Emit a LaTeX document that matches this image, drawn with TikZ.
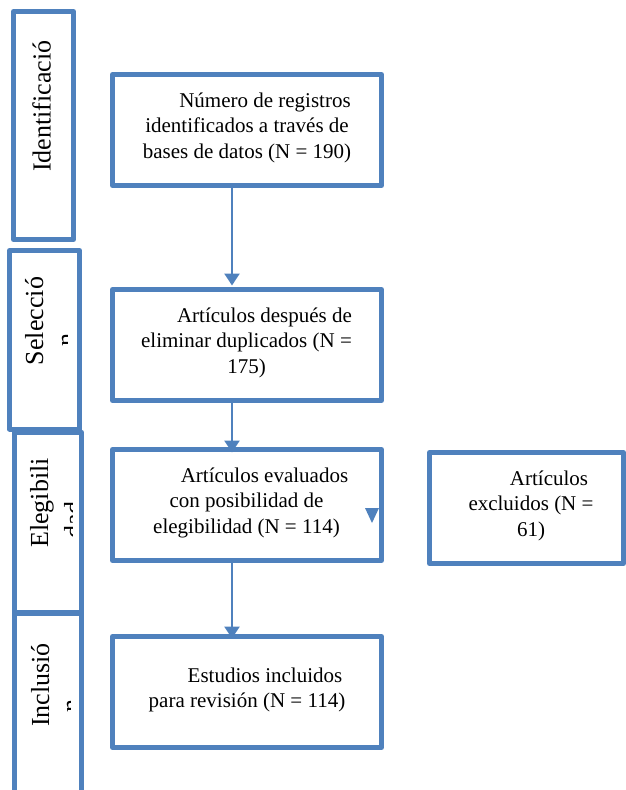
\documentclass[tikz,border=0pt]{standalone}
\usepackage{fontspec}
\setmainfont{Liberation Serif}
\usetikzlibrary{arrows.meta}
\definecolor{wblue}{RGB}{79,129,189}
\tikzset{
  frame/.style={draw=wblue, line width=5pt, line join=round, rectangle, inner sep=0pt},
  body/.style={font=\fontsize{21}{25.5}\selectfont, inner sep=0pt, anchor=base},
  side/.style={font=\fontsize{26}{30}\selectfont, inner sep=0pt, anchor=base, rotate=90},
  flow/.style={draw=wblue, line width=2.5pt, -{Triangle[width=15pt,length=12pt]}},
}
\newcommand{\lines}[1]{\begin{tabular}[t]{@{}c@{}}#1\end{tabular}}
\begin{document}
\begin{tikzpicture}[x=1pt,y=-1pt]
\useasboundingbox (0,0) rectangle (626,790);
\clip (0,0) rectangle (626,790);

% side stage boxes
\draw[frame] (13.5,11.5) rectangle (73.5,239.5);
\draw[frame] (9.5,250.5) rectangle (79.5,429);
\draw[frame] (14.5,432) rectangle (81.5,612);
\draw[frame] (14.5,613) rectangle (81.5,805);

\node[side] (s1) at (50.7,106) {Identificació};
\node[side] (s2) at (43,321) {Selecció};
\begin{scope}
  \clip (9.5,252) rectangle (67,427);
  \node[side] (s2b) at (74,340) {n};
\end{scope}
\node[side] (s3) at (48,503) {Elegibili};
\begin{scope}
  \clip (14.5,434) rectangle (72,610);
  \node[side] (s3b) at (82,520) {dad};
\end{scope}
\node[side] (s4) at (49,685) {Inclusió};
\begin{scope}
  \clip (14.5,615) rectangle (70,790);
  \node[side] (s4b) at (79,706) {n};
\end{scope}

% main boxes
\node[frame, minimum width=269pt, minimum height=111pt] (A) at (247,130) {};
\node[frame, minimum width=269pt, minimum height=111pt] (B) at (247,345) {};
\node[frame, minimum width=269pt, minimum height=111pt] (C) at (247,505) {};
\node[frame, minimum width=194pt, minimum height=111pt] (D) at (526.5,508) {};
\node[frame, minimum width=269pt, minimum height=111pt] (E) at (247,692) {};

\node[body] (tA) at (247,107) {\lines{\hspace*{36pt}Número de registros\\ identificados a través de\\ bases de datos (N = 190)}};
\node[body] (tB) at (246.5,322) {\lines{\hspace*{36pt}Artículos después de\\ eliminar duplicados (N =\\ 175)}};
\node[body] (tC) at (246.5,482) {\lines{\hspace*{36pt}Artículos evaluados\\ con posibilidad de\\ elegibilidad (N = 114)}};
\node[body] (tD) at (531,485) {\lines{\hspace*{36pt}Artículos\\ excluidos (N =\\ 61)}};
\node[body] (tE) at (247,682) {\lines{\hspace*{36pt}Estudios incluidos\\ para revisión (N = 114)}};

% connectors
\coordinate (col) at (232,0);
\draw[flow] (A.south -| col) -- ([yshift=1.5pt]B.north -| col);
\draw[flow] ([yshift=3pt]B.south -| col) -- ([yshift=-5.5pt]C.north -| col);
\draw[flow] (C.south -| col) -- ([yshift=-4.5pt]E.north -| col);

% stray arrowhead inside C
\fill[wblue] (365,508) -- (379,508) -- (372,523) -- cycle;
\end{tikzpicture}
\end{document}
